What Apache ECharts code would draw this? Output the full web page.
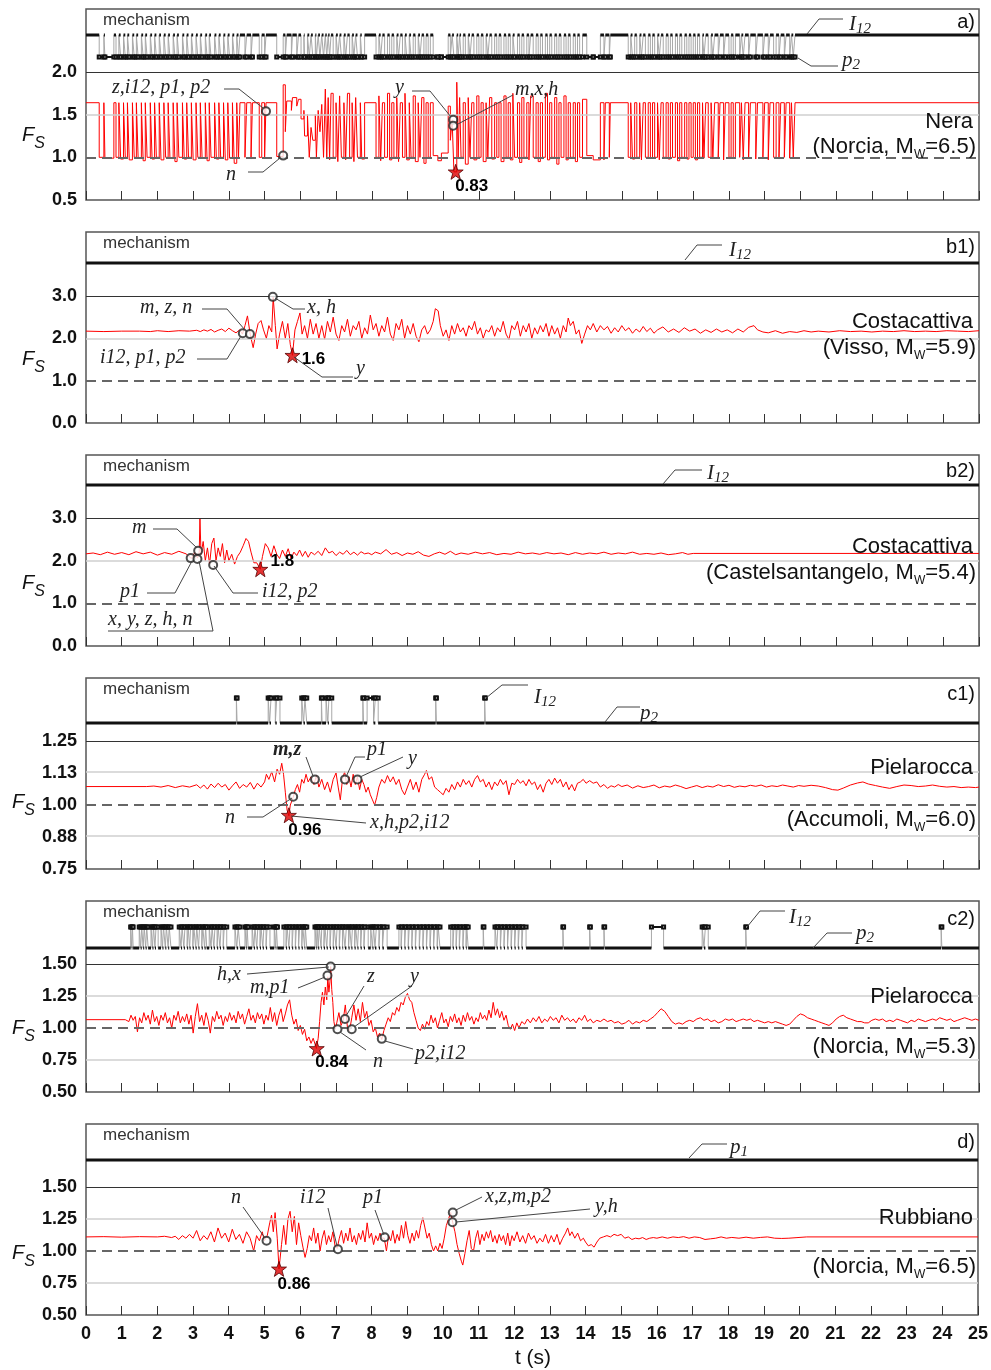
<!DOCTYPE html>
<html>
<head>
<meta charset="utf-8">
<script src="https://cdn.jsdelivr.net/npm/echarts@6.0.0/dist/echarts.min.js"></script>
<style>html,body{margin:0;padding:0;background:#fff}#main{width:991px;height:1370px}</style>
</head>
<body>
<div id="main"></div>
<script>
// ---- data ----
// a) Nera: Fs sits at the I12 level and drops while p2 governs: [start, end, Fs(p2), Fs(I12) after]
var neraI12 = 1.64;
var neraP2 = [
  [0.37,0.50,1.00],[0.53,0.78,0.99],
  [0.84,0.92,1.00],[0.97,1.05,0.98],[1.10,1.16,1.00],[1.21,1.30,0.97],[1.35,1.41,1.00],[1.46,1.55,0.99],
  [1.60,1.66,0.96],[1.71,1.80,1.00],[1.85,1.92,0.98],[1.97,2.05,1.00],[2.10,2.18,0.97],[2.23,2.30,1.00],
  [2.35,2.44,0.99],[2.49,2.55,0.95],[2.60,2.70,1.00],[2.75,2.82,0.98],[2.87,2.95,1.00],[3.00,3.08,0.97],
  [3.13,3.20,1.00],[3.25,3.34,0.99],[3.39,3.45,0.96],[3.50,3.60,1.00],[3.65,3.72,0.98],[3.77,3.85,1.00],
  [3.90,3.97,0.97],[4.02,4.10,0.99],[4.15,4.22,0.93],[4.27,4.31,1.00],
  [4.45,4.50,1.00],[4.62,4.66,0.98],[4.85,4.92,1.00],[5.00,5.04,0.99],
  [5.34,5.52,1.01,1.85],[5.58,5.62,1.30,1.66],[5.75,5.78,1.55,1.70],[5.90,5.95,1.60,1.68],
  [6.02,6.10,1.45,1.55],[6.12,6.20,1.25,1.50],[6.25,6.30,1.00,1.35],[6.35,6.42,1.20,1.50],[6.45,6.50,1.00,1.55],[6.55,6.60,1.30,1.62],
  [6.65,6.70,1.00,1.80],[6.74,6.78,1.00,1.70],[6.82,6.86,0.97,1.75],
  [6.92,7.00,1.00],[7.05,7.10,0.95,1.72],[7.15,7.22,1.00],[7.27,7.32,0.97,1.75],[7.38,7.45,1.00],[7.50,7.55,0.95,1.70],[7.60,7.68,1.00],[7.72,7.80,0.98],
  [8.12,8.20,1.00,1.72],[8.25,8.30,0.96],[8.36,8.44,1.00,1.75],[8.50,8.56,0.97],[8.62,8.70,1.00,1.70],[8.75,8.80,0.95],[8.86,8.93,1.00,1.75],
  [8.98,9.05,0.97],[9.10,9.16,1.00,1.72],[9.22,9.30,0.95],[9.35,9.40,1.00,1.70],[9.46,9.52,0.93],[9.58,9.64,1.00],
  [9.72,9.85,1.02],[9.85,9.95,0.96],[9.95,10.14,1.05,1.60],
  [10.20,10.25,1.20,1.44],[10.30,10.38,0.83,1.88],[10.42,10.46,1.00,1.70],
  [10.50,10.56,1.00],[10.62,10.70,0.92,1.70],[10.75,10.80,1.00],[10.86,10.94,0.97,1.72],[11.00,11.06,1.00],[11.12,11.20,0.95],
  [11.25,11.30,1.00,1.70],[11.36,11.44,0.98],[11.50,11.56,1.00],
  [11.62,11.70,0.95,1.72],[11.76,11.82,1.00],[11.88,11.95,0.97,1.75],[12.00,12.08,1.00],[12.14,12.20,0.94,1.70],[12.26,12.34,1.00],
  [12.40,12.45,0.97,1.72],[12.52,12.60,1.00],[12.66,12.72,0.95],[12.78,12.86,1.00,1.75],[12.92,12.98,0.97],[13.04,13.12,1.00,1.70],
  [13.18,13.24,0.92],[13.30,13.38,1.00,1.72],[13.44,13.50,0.97],[13.56,13.64,1.00],[13.70,13.76,0.95],[13.82,13.90,1.00,1.68],
  [14.02,14.20,1.02],[14.20,14.40,0.97],
  [14.50,14.54,0.97],[14.65,14.68,1.00],
  [15.18,15.25,1.00],[15.30,15.36,0.98],[15.42,15.50,1.00],[15.55,15.60,0.97],[15.66,15.74,1.00],[15.80,15.86,0.99],
  [15.92,16.00,1.00],[16.05,16.10,0.97],[16.16,16.24,1.00],[16.30,16.36,0.98],[16.42,16.50,1.00],[16.56,16.62,0.96],
  [16.68,16.76,1.00],[16.82,16.88,0.98],[16.94,17.00,1.00],[17.06,17.12,0.97],[17.18,17.26,1.00],[17.30,17.35,0.99],
  [17.42,17.50,1.00],[17.55,17.60,0.98],[17.70,17.75,1.00],[17.85,17.90,0.97],[18.00,18.06,1.00],[18.12,18.18,0.99],
  [18.30,18.35,1.00],[18.40,18.45,0.97],[18.55,18.60,1.00],[18.75,18.80,0.98],[18.95,19.00,1.00],[19.10,19.15,0.97],
  [19.25,19.32,1.00],[19.40,19.45,0.98],[19.55,19.60,1.00],[19.70,19.75,0.99],[19.80,19.85,1.00]
];
var neraCircles = [[5.04,1.54],[5.52,1.02],[10.28,1.44],[10.28,1.37]];
var neraMin = [10.35, 0.83];

// b1) Costacattiva, Visso
var vissoFs = [[0,2.17],[0.5,2.16],[1,2.17],[1.5,2.17],[1.8,2.16],[2,2.18],[2.3,2.16],[2.6,2.18],[2.9,2.17],[3.1,2.19],[3.2,2.16],[3.3,2.2],
  [3.4,2.17],[3.5,2.21],[3.6,2.15],[3.7,2.19],[3.8,2.22],[3.9,2.16],[4.0,2.24],[4.1,2.18],[4.2,2.13],[4.3,2.2],[4.38,2.1],[4.45,2.3],
  [4.52,2.53],[4.6,2.08],[4.68,1.78],[4.75,2.1],[4.82,2.35],[4.9,2.42],[4.97,2.2],[5.05,2.0],[5.12,2.3],[5.2,2.15],[5.24,2.97],[5.3,2.3],
  [5.35,1.75],[5.42,2.1],[5.5,2.4],[5.58,2.0],[5.65,2.35],[5.72,1.85],[5.78,1.6],[5.85,2.2],[5.92,2.4],[5.99,2.6],[6.05,2.1],[6.12,2.3],
  [6.2,2.0],[6.28,2.45],[6.36,2.1],[6.44,2.35],[6.52,2.0],[6.6,2.3],[6.68,1.98],[6.76,2.4],[6.84,2.15],[6.92,2.5],[7.0,2.1],[7.08,1.95],
  [7.16,2.3],[7.24,2.15],[7.32,2.45],[7.4,2.05],[7.48,2.3],[7.56,2.2],[7.64,2.4],[7.72,2.0],[7.8,2.25],[7.88,2.1],[7.96,2.55],[8.04,2.2],
  [8.12,2.35],[8.2,2.05],[8.28,2.3],[8.36,2.15],[8.44,2.5],[8.52,2.1],[8.6,1.95],[8.68,2.35],[8.76,2.2],[8.84,2.45],[8.92,2.0],[9.0,2.3],
  [9.08,2.1],[9.16,2.35],[9.24,2.05],[9.32,1.92],[9.4,2.2],[9.48,2.3],[9.56,2.1],[9.64,2.2],[9.72,2.4],[9.78,2.7],[9.86,2.65],[9.92,2.3],
  [10.0,2.05],[10.08,2.2],[10.16,1.95],[10.24,2.3],[10.32,2.1],[10.4,2.35],[10.48,2.15],[10.56,2.25],[10.64,2.05],[10.72,2.3],[10.8,2.2],
  [10.88,2.4],[10.96,2.1],[11.04,2.25],[11.12,2.0],[11.2,2.2],[11.28,2.15],[11.36,2.3],[11.44,2.05],[11.52,2.25],[11.6,2.15],[11.68,2.4],
  [11.76,2.1],[11.84,1.97],[11.92,2.3],[12.0,2.2],[12.08,2.4],[12.16,2.05],[12.24,2.3],[12.32,2.15],[12.4,2.35],[12.48,2.0],[12.56,2.25],
  [12.64,2.1],[12.72,2.3],[12.8,2.15],[12.88,2.35],[12.96,2.05],[13.04,2.3],[13.12,2.1],[13.2,2.25],[13.28,2.0],[13.36,2.3],[13.44,2.15],
  [13.5,2.48],[13.56,2.3],[13.64,2.4],[13.72,2.1],[13.8,2.2],[13.88,1.88],[13.96,2.1],[14.04,2.3],[14.12,2.2],[14.2,2.35],[14.3,2.15],
  [14.4,2.3],[14.5,2.2],[14.6,2.28],[14.7,2.12],[14.8,2.25],[14.9,2.15],[15.0,2.3],[15.1,2.18],[15.2,2.25],[15.3,2.12],[15.4,2.22],
  [15.5,2.15],[15.6,2.28],[15.7,2.16],[15.8,2.24],[15.9,2.12],[16.0,2.2],[16.15,2.27],[16.3,2.15],[16.45,2.22],[16.6,2.14],[16.75,2.25],
  [16.9,2.17],[17.05,2.22],[17.2,2.12],[17.35,2.2],[17.5,2.14],[17.65,2.22],[17.8,2.15],[17.95,2.2],[18.1,2.13],[18.25,2.22],[18.4,2.15],
  [18.55,2.26],[18.7,2.3],[18.8,2.2],[18.95,2.15],[19.1,2.13],[19.3,2.18],[19.5,2.12],[19.7,2.16],[19.9,2.14],[20.1,2.18],[20.3,2.15],
  [20.5,2.17],[20.8,2.15],[21.1,2.18],[21.4,2.16],[21.7,2.17],[22.0,2.15],[22.3,2.17],[22.6,2.16],[22.9,2.18],[23.2,2.16],[23.5,2.17],
  [23.8,2.16],[24.1,2.18],[24.4,2.17],[24.7,2.16],[25,2.18]];
var vissoCircles = [[4.39,2.12],[4.59,2.10],[5.23,2.98]];
var vissoMin = [5.78, 1.6];

// b2) Costacattiva, Castelsantangelo
var castFs = [[0,2.16],[0.2,2.18],[0.4,2.14],[0.6,2.2],[0.8,2.15],[1.0,2.19],[1.2,2.14],[1.4,2.21],[1.6,2.16],[1.8,2.2],[2.0,2.13],
  [2.2,2.19],[2.4,2.15],[2.6,2.22],[2.8,2.16],[2.95,2.05],[3.05,2.2],[3.12,2.06],[3.17,2.2],[3.19,3.0],[3.22,2.15],[3.28,2.45],[3.34,2.0],
  [3.4,2.3],[3.46,1.92],[3.52,2.4],[3.58,2.53],[3.64,2.0],[3.7,2.3],[3.76,2.1],[3.82,2.4],[3.88,1.95],[3.94,2.25],[4.0,2.0],[4.08,2.15],
  [4.16,1.92],[4.24,2.1],[4.32,2.2],[4.4,2.35],[4.48,2.52],[4.55,2.45],[4.62,2.2],[4.7,1.95],[4.78,1.95],[4.88,1.8],[4.94,2.1],[5.02,2.4],
  [5.1,2.3],[5.18,2.1],[5.26,2.35],[5.34,2.15],[5.42,2.05],[5.5,2.25],[5.58,2.1],[5.66,2.28],[5.74,2.05],[5.82,2.2],[5.9,2.12],[5.98,2.25],
  [6.06,2.1],[6.14,2.22],[6.22,2.08],[6.3,2.2],[6.4,2.14],[6.5,2.22],[6.6,2.12],[6.7,2.3],[6.8,2.18],[6.9,2.22],[7.0,2.12],[7.1,2.2],
  [7.2,2.15],[7.3,2.24],[7.4,2.14],[7.5,2.2],[7.6,2.13],[7.7,2.21],[7.8,2.16],[7.9,2.18],[8.0,2.14],[8.1,2.2],[8.25,2.16],[8.4,2.26],
  [8.55,2.15],[8.7,2.19],[8.85,2.12],[9.0,2.18],[9.15,2.15],[9.3,2.21],[9.45,2.13],[9.6,2.1],[9.75,2.16],[9.9,2.2],[10.05,2.15],[10.2,2.22],
  [10.35,2.14],[10.5,2.18],[10.7,2.15],[10.9,2.2],[11.1,2.16],[11.3,2.19],[11.5,2.14],[11.7,2.17],[11.9,2.15],[12.1,2.2],[12.3,2.16],
  [12.5,2.18],[12.7,2.15],[12.9,2.19],[13.1,2.16],[13.3,2.18],[13.5,2.14],[13.7,2.19],[13.9,2.15],[14.1,2.18],[14.3,2.16],[14.5,2.2],
  [14.7,2.15],[14.9,2.18],[15.1,2.16],[15.3,2.2],[15.5,2.15],[15.7,2.17],[15.9,2.15],[16.1,2.18],[16.3,2.14],[16.5,2.16],[16.7,2.19],
  [16.85,2.15],[17.0,2.17],[25,2.17]];
var castCircles = [[2.93,2.06],[3.14,2.23],[3.12,2.04],[3.56,1.90]];
var castMin = [4.88, 1.8];

// c1) Pielarocca, Accumoli
var accuFs = [[0,1.072],[1.7,1.072],[1.9,1.074],[2.1,1.07],[2.3,1.076],[2.5,1.068],[2.7,1.075],[2.9,1.07],[3.1,1.079],[3.2,1.066],
  [3.3,1.078],[3.4,1.062],[3.5,1.082],[3.6,1.068],[3.7,1.085],[3.8,1.07],[3.9,1.08],[4.0,1.058],[4.1,1.075],[4.2,1.09],[4.3,1.065],
  [4.4,1.08],[4.5,1.07],[4.6,1.088],[4.7,1.062],[4.8,1.085],[4.9,1.07],[5.0,1.09],[5.05,1.12],[5.12,1.1],[5.2,1.13],[5.28,1.09],
  [5.35,1.14],[5.42,1.12],[5.48,1.163],[5.53,1.12],[5.58,1.05],[5.63,0.98],[5.68,0.958],[5.72,1.0],[5.8,1.03],[5.86,1.06],[5.92,1.08],
  [5.98,1.05],[6.04,1.1],[6.1,1.085],[6.16,1.12],[6.22,1.09],[6.3,1.11],[6.38,1.08],[6.45,1.115],[6.52,1.07],[6.6,1.1],[6.68,1.06],
  [6.76,1.09],[6.84,1.05],[6.92,1.1],[7.0,1.125],[7.06,1.07],[7.12,1.02],[7.18,1.1],[7.24,1.13],[7.3,1.08],[7.36,1.11],[7.42,1.07],
  [7.48,1.12],[7.54,1.08],[7.6,1.11],[7.66,1.06],[7.72,1.1],[7.78,1.08],[7.84,1.05],[7.9,1.07],[7.96,1.04],[8.02,1.02],[8.08,1.0],
  [8.14,1.03],[8.2,1.07],[8.28,1.1],[8.36,1.085],[8.44,1.115],[8.52,1.09],[8.6,1.11],[8.68,1.08],[8.76,1.1],[8.84,1.06],[8.92,1.04],
  [9.0,1.07],[9.08,1.1],[9.16,1.06],[9.24,1.09],[9.32,1.05],[9.4,1.1],[9.48,1.12],[9.53,1.135],[9.6,1.1],[9.68,1.11],[9.76,1.07],
  [9.84,1.06],[9.92,1.05],[10.0,1.04],[10.08,1.065],[10.16,1.05],[10.24,1.08],[10.32,1.06],[10.4,1.09],[10.48,1.07],[10.56,1.1],
  [10.64,1.08],[10.72,1.095],[10.8,1.07],[10.88,1.1],[10.96,1.115],[11.04,1.09],[11.12,1.1],[11.2,1.07],[11.28,1.09],[11.36,1.06],
  [11.44,1.09],[11.52,1.075],[11.6,1.1],[11.68,1.08],[11.76,1.095],[11.84,1.04],[11.92,1.085],[12.0,1.08],[12.08,1.1],[12.16,1.085],
  [12.24,1.095],[12.32,1.075],[12.4,1.1],[12.48,1.08],[12.56,1.09],[12.64,1.06],[12.72,1.08],[12.8,1.05],[12.88,1.085],[12.96,1.1],
  [13.04,1.08],[13.12,1.105],[13.2,1.085],[13.28,1.1],[13.36,1.07],[13.44,1.09],[13.52,1.06],[13.6,1.08],[13.68,1.055],[13.76,1.085],
  [13.84,1.09],[13.92,1.1],[14.0,1.085],[14.1,1.095],[14.2,1.085],[14.3,1.09],[14.4,1.07],[14.5,1.08],[14.6,1.065],[14.7,1.075],
  [14.8,1.07],[14.9,1.08],[15.0,1.072],[15.15,1.078],[15.3,1.066],[15.45,1.075],[15.6,1.068],[15.75,1.072],[15.9,1.078],[16.05,1.067],
  [16.2,1.074],[16.35,1.07],[16.5,1.078],[16.65,1.072],[16.8,1.064],[16.95,1.07],[17.1,1.076],[17.25,1.068],[17.4,1.074],[17.55,1.07],
  [17.7,1.079],[17.85,1.072],[18.0,1.077],[18.15,1.069],[18.3,1.074],[18.45,1.071],[18.6,1.077],[18.75,1.073],[18.9,1.078],[19.05,1.07],
  [19.2,1.075],[19.35,1.072],[19.5,1.078],[19.65,1.074],[19.8,1.07],[19.95,1.076],[20.1,1.073],[20.3,1.077],[20.5,1.074],[20.7,1.068],
  [20.9,1.06],[21.05,1.058],[21.2,1.066],[21.4,1.078],[21.6,1.086],[21.75,1.09],[21.9,1.082],[22.1,1.076],[22.3,1.07],[22.5,1.065],
  [22.7,1.072],[22.9,1.078],[23.1,1.076],[23.3,1.072],[23.5,1.074],[23.7,1.078],[23.9,1.073],[24.1,1.07],[24.3,1.072],[24.5,1.068],
  [24.7,1.07],[24.9,1.068],[25,1.07]];
var accuI12 = [[4.21,4.23],[5.1,5.14],[5.18,5.3],[5.34,5.43],[6.04,6.09],[6.13,6.18],[6.59,6.61],[6.72,6.77],[6.8,6.88],
  [7.75,7.77],[7.87,8.05],[8.1,8.18],[9.79,9.81],[11.16,11.18]];
var accuCircles = [[6.41,1.10],[7.25,1.10],[7.6,1.10],[5.8,1.032]];
var accuMin = [5.68, 0.96];

// c2) Pielarocca, Norcia Mw 5.3
var norcFs = [[0,1.065],[1.1,1.065],[1.15,1.08],[1.2,1.05],[1.26,1.1],[1.32,1.06],[1.38,1.09],[1.44,0.97],[1.5,1.08],[1.56,1.04],
  [1.62,1.12],[1.68,1.06],[1.74,1.1],[1.8,1.03],[1.86,1.14],[1.92,1.05],[1.98,1.09],[2.04,1.02],[2.1,1.1],[2.16,1.06],[2.22,1.12],
  [2.28,1.04],[2.34,1.08],[2.4,1.0],[2.46,1.1],[2.52,1.06],[2.58,1.13],[2.64,1.04],[2.7,1.09],[2.76,1.05],[2.82,1.11],[2.88,1.03],
  [2.94,1.1],[3.0,0.96],[3.06,1.09],[3.12,1.19],[3.18,1.05],[3.24,1.1],[3.3,1.02],[3.36,1.12],[3.42,1.06],[3.48,0.96],[3.54,1.09],
  [3.6,1.05],[3.66,1.13],[3.72,1.07],[3.78,1.1],[3.84,1.02],[3.9,1.09],[3.96,1.05],[4.02,1.12],[4.08,1.06],[4.14,1.1],[4.2,1.04],
  [4.26,1.13],[4.32,1.07],[4.38,1.11],[4.44,1.03],[4.5,1.09],[4.56,1.15],[4.62,1.06],[4.68,1.1],[4.74,1.04],[4.8,1.12],[4.86,1.07],
  [4.92,1.11],[4.98,1.03],[5.04,1.1],[5.1,1.06],[5.16,1.16],[5.22,1.05],[5.28,1.12],[5.34,1.02],[5.4,1.1],[5.46,1.15],[5.52,1.05],
  [5.58,1.11],[5.64,1.18],[5.7,1.22],[5.76,1.1],[5.82,1.03],[5.88,1.07],[5.94,0.98],[6.0,1.02],[6.06,0.95],[6.12,0.99],[6.18,0.9],
  [6.24,0.93],[6.3,0.88],[6.36,0.92],[6.45,0.84],[6.5,0.92],[6.54,1.05],[6.58,1.2],[6.62,1.28],[6.66,1.18],[6.7,1.32],[6.74,1.22],
  [6.77,1.4],[6.8,1.28],[6.83,1.36],[6.85,1.48],[6.88,1.3],[6.91,1.2],[6.94,1.05],[6.98,0.99],[7.02,1.04],[7.08,1.12],[7.14,1.02],
  [7.2,1.06],[7.26,1.18],[7.32,1.0],[7.38,0.98],[7.44,1.08],[7.5,1.18],[7.56,1.06],[7.62,1.15],[7.68,1.05],[7.74,1.2],[7.8,1.08],
  [7.86,1.13],[7.92,1.02],[7.98,1.06],[8.04,0.97],[8.1,1.0],[8.16,0.93],[8.22,0.96],[8.28,0.91],[8.34,0.98],[8.4,1.03],[8.46,1.08],
  [8.52,1.05],[8.58,1.12],[8.64,1.1],[8.7,1.16],[8.76,1.13],[8.82,1.2],[8.88,1.18],[8.94,1.24],[9.0,1.27],[9.06,1.22],[9.12,1.2],
  [9.18,1.12],[9.24,1.06],[9.3,1.0],[9.36,0.98],[9.42,1.03],[9.48,0.99],[9.54,1.05],[9.6,1.02],[9.66,1.1],[9.72,1.04],[9.78,1.08],
  [9.84,1.0],[9.9,1.06],[9.96,1.12],[10.02,1.04],[10.08,1.07],[10.14,1.01],[10.2,1.09],[10.26,1.05],[10.32,1.11],[10.38,1.04],
  [10.44,1.08],[10.5,1.02],[10.56,1.1],[10.62,1.05],[10.68,1.12],[10.74,1.06],[10.8,1.09],[10.86,1.03],[10.92,1.08],[10.98,1.05],
  [11.04,1.12],[11.1,1.07],[11.16,1.1],[11.22,1.06],[11.28,1.14],[11.34,1.08],[11.4,1.2],[11.46,1.1],[11.52,1.15],[11.58,1.08],
  [11.64,1.13],[11.7,1.06],[11.76,1.1],[11.82,1.02],[11.88,0.99],[11.94,1.03],[12.0,0.98],[12.06,1.04],[12.12,1.0],[12.2,1.05],
  [12.28,1.03],[12.36,1.07],[12.44,1.04],[12.52,1.08],[12.6,1.05],[12.68,1.09],[12.76,1.04],[12.84,1.07],[12.92,1.05],[13.0,1.09],
  [13.08,1.06],[13.16,1.08],[13.24,1.04],[13.32,1.1],[13.4,1.06],[13.48,1.08],[13.56,1.05],[13.64,1.07],[13.72,1.04],[13.8,1.08],
  [13.88,1.06],[13.96,1.1],[14.04,1.05],[14.12,1.07],[14.2,1.04],[14.3,1.06],[14.4,1.05],[14.5,1.07],[14.6,1.05],[14.7,1.06],
  [14.8,1.04],[14.9,1.05],[15.0,1.03],[15.1,1.04],[15.2,1.06],[15.3,1.03],[15.4,1.05],[15.5,1.04],[15.6,1.06],[15.7,1.05],[15.8,1.07],
  [15.9,1.09],[16.0,1.12],[16.1,1.15],[16.2,1.13],[16.3,1.09],[16.4,1.05],[16.5,1.03],[16.6,1.04],[16.7,1.03],[16.8,1.05],[16.9,1.06],
  [17.0,1.05],[17.1,1.07],[17.2,1.08],[17.3,1.06],[17.4,1.07],[17.5,1.05],[17.6,1.06],[17.7,1.04],[17.8,1.05],[17.9,1.07],[18.0,1.06],
  [18.1,1.07],[18.2,1.05],[18.3,1.06],[18.4,1.07],[18.5,1.06],[18.6,1.07],[18.7,1.05],[18.8,1.06],[18.9,1.05],[19.0,1.04],[19.1,1.05],
  [19.2,1.04],[19.3,1.05],[19.4,1.04],[19.5,1.03],[19.6,1.02],[19.7,1.03],[19.8,1.06],[19.9,1.09],[20.0,1.11],[20.1,1.1],[20.2,1.08],
  [20.3,1.07],[20.4,1.06],[20.5,1.05],[20.6,1.04],[20.7,1.03],[20.8,1.02],[20.9,1.04],[21.0,1.07],[21.1,1.09],[21.2,1.1],[21.3,1.08],
  [21.4,1.07],[21.5,1.06],[21.6,1.05],[21.7,1.05],[21.8,1.04],[21.9,1.04],[22.0,1.06],[22.1,1.07],[22.2,1.06],[22.3,1.07],[22.4,1.05],
  [22.5,1.06],[22.6,1.05],[22.7,1.07],[22.8,1.06],[22.9,1.05],[23.0,1.04],[23.1,1.06],[23.2,1.05],[23.3,1.07],[23.4,1.06],[23.5,1.05],
  [23.6,1.06],[23.7,1.07],[23.8,1.06],[23.9,1.08],[24.0,1.07],[24.1,1.06],[24.2,1.07],[24.3,1.05],[24.4,1.06],[24.5,1.07],[24.6,1.08],
  [24.7,1.07],[24.8,1.06],[24.9,1.07],[25,1.06]];
var norcI12 = [[1.25,1.28],[1.30,1.32],[1.49,1.53],[1.56,1.6],[1.63,1.67],[1.7,1.74],[1.82,1.86],[1.89,1.93],[1.96,2.02],
  [2.1,2.14],[2.17,2.22],[2.25,2.3],[2.33,2.38],[2.61,2.66],[2.69,2.74],[2.77,2.83],[2.86,2.9],[2.93,2.99],[3.02,3.07],[3.1,3.15],
  [3.18,3.24],[3.27,3.32],[3.35,3.38],[3.45,3.5],[3.53,3.58],[3.61,3.67],[3.7,3.75],[3.78,3.84],[3.87,3.94],[4.17,4.22],[4.26,4.31],
  [4.45,4.49],[4.51,4.54],[4.65,4.7],[4.73,4.78],[4.81,4.87],[4.9,4.95],[4.98,5.04],[5.07,5.15],[5.27,5.31],[5.33,5.36],
  [5.54,5.6],[5.63,5.68],[5.71,5.77],[5.8,5.86],[5.89,5.95],[5.98,6.04],[6.07,6.12],[6.14,6.18],[6.41,6.45],[6.47,6.5],
  [6.53,6.58],[6.6,6.66],[6.69,6.74],[6.77,6.83],[6.86,6.92],[6.95,7.0],[7.03,7.09],[7.12,7.18],[7.2,7.25],[7.29,7.35],[7.38,7.43],
  [7.46,7.52],[7.55,7.6],[7.63,7.69],[7.72,7.78],[7.81,7.9],[7.97,8.02],[8.05,8.09],[8.13,8.2],[8.23,8.3],[8.34,8.43],
  [8.76,8.82],[8.85,8.92],[8.95,9.02],[9.05,9.12],[9.15,9.22],[9.25,9.33],[9.36,9.43],[9.46,9.53],[9.56,9.63],[9.66,9.73],
  [9.76,9.83],[9.86,9.91],[10.21,10.27],[10.3,10.36],[10.39,10.45],[10.48,10.55],[10.58,10.64],[10.66,10.7],[11.12,11.14],
  [11.45,11.5],[11.53,11.6],[11.63,11.7],[11.73,11.8],[11.83,11.9],[11.93,12.0],[12.03,12.1],[12.13,12.2],[12.23,12.32],
  [13.35,13.37],[14.1,14.12],[14.5,14.52],[15.83,16.17],[17.25,17.3],[17.34,17.42],[18.47,18.49],[23.94,23.96]];
var norcCircles = [[6.85,1.48],[6.76,1.41],[7.25,1.07],[7.04,0.99],[7.44,0.99],[8.28,0.915]];
var norcMin = [6.46, 0.84];

// d) Rubbiano, Norcia Mw 6.5
var rubbFs = [[0,1.11],[0.5,1.112],[1,1.108],[1.5,1.112],[2,1.11],[2.2,1.115],[2.4,1.105],[2.5,1.115],[2.6,1.09],[2.7,1.12],
  [2.8,1.1],[2.9,1.13],[3.0,1.1],[3.1,1.16],[3.2,1.08],[3.3,1.12],[3.4,1.09],[3.5,1.15],[3.6,1.07],[3.7,1.18],[3.8,1.1],[3.9,1.14],
  [4.0,1.07],[4.1,1.17],[4.2,1.09],[4.3,1.13],[4.4,1.06],[4.5,1.15],[4.6,1.1],[4.7,1.0],[4.78,1.12],[4.86,1.08],[4.94,1.15],[5.0,1.08],
  [5.08,1.12],[5.15,1.22],[5.2,1.28],[5.25,1.15],[5.3,1.3],[5.36,1.1],[5.41,0.86],[5.48,1.05],[5.54,1.2],[5.6,1.05],[5.66,1.25],
  [5.72,1.31],[5.78,1.15],[5.84,1.27],[5.9,1.05],[5.96,1.22],[6.02,1.12],[6.08,1.03],[6.14,0.95],[6.2,1.02],[6.26,1.12],[6.32,1.08],
  [6.38,1.18],[6.44,1.06],[6.5,1.14],[6.56,1.0],[6.62,1.1],[6.68,1.16],[6.74,1.05],[6.8,1.12],[6.86,1.07],[6.92,1.15],[6.98,1.04],
  [7.04,1.02],[7.1,1.1],[7.16,1.16],[7.22,1.06],[7.28,1.14],[7.34,1.08],[7.4,1.18],[7.46,1.07],[7.52,1.12],[7.58,1.05],[7.64,1.14],
  [7.7,1.09],[7.76,1.16],[7.82,1.07],[7.88,1.22],[7.94,1.1],[8.0,1.14],[8.06,1.05],[8.12,1.12],[8.18,1.08],[8.24,1.14],[8.3,1.1],
  [8.36,1.1],[8.42,1.0],[8.48,1.12],[8.54,1.08],[8.6,1.16],[8.66,1.06],[8.72,1.13],[8.78,1.08],[8.84,1.2],[8.9,1.1],[8.96,1.23],
  [9.02,1.12],[9.08,1.06],[9.14,1.14],[9.2,1.08],[9.26,1.16],[9.32,1.1],[9.38,1.2],[9.44,1.26],[9.5,1.18],[9.56,1.1],[9.62,1.14],
  [9.68,1.05],[9.74,1.0],[9.8,1.04],[9.86,1.0],[9.92,1.06],[9.98,1.02],[10.04,1.1],[10.1,1.2],[10.16,1.25],[10.22,1.3],[10.28,1.22],
  [10.34,1.15],[10.4,1.05],[10.46,0.98],[10.52,0.92],[10.56,0.89],[10.62,0.98],[10.68,1.08],[10.74,1.16],[10.8,1.02],[10.86,1.0],
  [10.92,1.1],[10.98,1.16],[11.04,1.05],[11.1,1.13],[11.16,1.08],[11.22,1.15],[11.28,1.1],[11.34,1.16],[11.4,1.07],[11.46,1.12],
  [11.52,1.06],[11.58,1.13],[11.64,1.08],[11.7,1.12],[11.76,1.05],[11.82,1.14],[11.88,1.04],[11.94,1.12],[12.0,1.08],[12.08,1.15],
  [12.16,1.07],[12.24,1.12],[12.32,1.06],[12.4,1.14],[12.48,1.09],[12.56,1.12],[12.64,1.06],[12.72,1.1],[12.8,1.07],[12.88,1.13],
  [12.96,1.06],[13.04,1.12],[13.12,1.07],[13.2,1.13],[13.28,1.05],[13.36,1.1],[13.44,1.14],[13.5,1.18],[13.56,1.12],[13.62,1.15],
  [13.7,1.1],[13.78,1.14],[13.86,1.08],[13.94,1.1],[14.0,1.07],[14.08,1.04],[14.16,1.05],[14.24,1.03],[14.32,1.07],[14.4,1.1],
  [14.5,1.11],[14.6,1.12],[14.7,1.11],[14.8,1.13],[14.9,1.12],[15.0,1.13],[15.1,1.1],[15.2,1.11],[15.3,1.09],[15.4,1.1],[15.5,1.095],
  [15.6,1.105],[15.7,1.09],[15.8,1.1],[15.9,1.105],[16.0,1.1],[16.15,1.11],[16.3,1.1],[16.45,1.11],[16.6,1.105],[16.75,1.112],
  [16.9,1.1],[17.05,1.11],[17.2,1.105],[17.35,1.09],[17.5,1.095],[17.65,1.1],[17.8,1.11],[17.95,1.1],[18.1,1.106],[18.3,1.1],
  [18.5,1.108],[18.7,1.1],[18.9,1.106],[19.1,1.11],[19.3,1.1],[19.5,1.098],[19.7,1.1],[19.9,1.104],[20.2,1.11],[25,1.11]];
var rubbCircles = [[5.06,1.08],[7.06,1.013],[8.37,1.107],[10.28,1.30],[10.27,1.224]];
var rubbMin = [5.41, 0.86];

// y axis ticks per panel: [min, labelled top, step, decimals]
var fsTicks = [[0.5,2.0,0.5,1],[0,3,1,1],[0,3,1,1],[0.75,1.25,0.125,2],[0.5,1.5,0.25,2],[0.5,1.5,0.25,2]];
var gridValues = [
  [[2.0,'top'],[1.5,'light'],[1.0,'dash']],
  [[3,'top'],[2,'light'],[1,'dash']],
  [[3,'top'],[2,'light'],[1,'dash']],
  [[1.25,'top'],[1.125,'light'],[1.0,'dash'],[0.875,'light']],
  [[1.5,'top'],[1.25,'light'],[1.0,'dash'],[0.75,'light']],
  [[1.5,'top'],[1.25,'light'],[1.0,'dash'],[0.75,'light']]
];
var stations = ['Nera','Costacattiva','Costacattiva','Pielarocca','Pielarocca','Rubbiano'];
var events = [['Norcia','6.5'],['Visso','5.9'],['Castelsantangelo','5.4'],['Accumoli','6.0'],['Norcia','5.3'],['Norcia','6.5']];
var tags = ['a)','b1)','b2)','c1)','c2)','d)'];

// ---- layout ----
var TOP = [9, 232, 455, 678, 901, 1124];
var H = 191, LEFT = 86, W = 893;
var fsMax = [2.738, 4.512, 4.477, 1.496, 1.992, 1.992];
var mech = [
  {base: 0.864, alt: 0.749, ivs: neraP2},
  {base: 0.838},
  {base: 0.843},
  {base: 0.764, alt: 0.895, ivs: accuI12},
  {base: 0.754, alt: 0.864, ivs: norcI12},
  {base: 0.812}
];
var stationY = [[122,147],[322,348],[547,573],[768,820],[997,1047],[1218,1267]];
var tagY = [22, 247, 471, 694, 919, 1142];
var fsLabelPos = [[22,135],[22,359],[22,583],[12,802],[12,1028],[12,1253]];
var starOffset = [[16,14],[21,4],[22,-8],[16,15],[15,14],[15,15]];
var LINE_STYLE = {
  top: {color: '#333', width: 1.2, type: 'solid'},
  light: {color: '#cfcfcf', width: 1.5, type: 'solid'},
  dash: {color: '#666', width: 2, type: [10, 6]}
};
var STAR = 'path://M12,0 L14.9,8.3 L23.4,8.3 L16.6,13.6 L19.1,22 L12,17 L4.9,22 L7.4,13.6 L0.6,8.3 L9.1,8.3 Z';

function buildNera() {
  var pts = [[0, neraI12]];
  neraP2.forEach(function (iv, k) {
    var next = neraP2[k + 1];
    pts.push([iv[0], iv[2]]);
    if (!next || next[0] > iv[1]) pts.push([iv[1], iv.length > 3 ? iv[3] : neraI12]);
  });
  pts.push([25, neraI12]);
  return pts;
}

function mechSeries(i, m) {
  var base = {type: 'line', xAxisIndex: i, yAxisIndex: 2 * i + 1, symbol: 'none', silent: true, z: 3, animation: false};
  if (!m.ivs) {
    return [Object.assign({}, base, {data: [[0, m.base], [25, m.base]], lineStyle: {color: '#111', width: 3}})];
  }
  var step = [[0, m.base]], baseSeg = [[0, m.base]], altSeg = [];
  m.ivs.forEach(function (iv, k) {
    var next = m.ivs[k + 1];
    step.push([iv[0], m.alt]);
    baseSeg.push([iv[0], m.base], [iv[0], null]);
    altSeg.push([iv[0], m.alt], [iv[1], m.alt], [iv[1], null]);
    if (!next || next[0] > iv[1]) {
      step.push([iv[1], m.base]);
      baseSeg.push([iv[1], m.base]);
    }
  });
  step.push([25, m.base]);
  baseSeg.push([25, m.base]);
  return [
    Object.assign({}, base, {data: step, step: 'end', lineStyle: {color: '#a8a8a8', width: 1}}),
    Object.assign({}, base, {data: baseSeg, lineStyle: {color: '#111', width: 3}}),
    Object.assign({}, base, {data: altSeg, lineStyle: {color: '#111', width: 2},
      symbol: 'emptyRect', symbolSize: 3, showSymbol: true, itemStyle: {color: '#111', borderWidth: 1}})
  ];
}

var fsData = [buildNera(), vissoFs, castFs, accuFs, norcFs, rubbFs];
var circles = [neraCircles, vissoCircles, castCircles, accuCircles, norcCircles, rubbCircles];
var mins = [neraMin, vissoMin, castMin, accuMin, norcMin, rubbMin];
var minDec = [2, 1, 1, 2, 2, 2];

var grids = [], xAxes = [], yAxes = [], series = [];
for (var i = 0; i < 6; i++) {
  grids.push({left: LEFT, top: TOP[i], width: W, height: H, show: true, borderColor: '#555', borderWidth: 1.5});
  xAxes.push({
    type: 'value', gridIndex: i, min: 0, max: 25, interval: 1,
    axisLine: {show: false}, splitLine: {show: false},
    axisTick: {show: true, inside: true, length: 9, lineStyle: {color: '#333', width: 1}},
    axisLabel: {show: i === 5, fontSize: 18, fontWeight: 'bold', color: '#111', fontFamily: 'Liberation Sans', margin: 10}
  });
  (function (tk) {
    yAxes.push({
      type: 'value', gridIndex: i, min: tk[0], max: fsMax[i], interval: tk[2],
      axisLine: {show: false}, axisTick: {show: false}, splitLine: {show: false},
      axisLabel: {fontSize: 18, fontWeight: 'bold', color: '#111', fontFamily: 'Liberation Sans', margin: 9,
        formatter: function (v) { return v > tk[1] + 1e-6 ? '' : v.toFixed(tk[3]); }}
    });
  })(fsTicks[i]);
  yAxes.push({type: 'value', gridIndex: i, min: 0, max: 1, show: false});

  series.push({
    type: 'line', xAxisIndex: i, yAxisIndex: 2 * i, data: [], z: 1, silent: true,
    markLine: {silent: true, symbol: ['none', 'none'], label: {show: false}, animation: false,
      data: gridValues[i].map(function (g) { return {yAxis: g[0], lineStyle: LINE_STYLE[g[1]]}; })}
  });
  series.push({
    type: 'line', xAxisIndex: i, yAxisIndex: 2 * i, data: fsData[i], step: i === 0 ? 'end' : false,
    symbol: 'none', silent: true, z: 2, animation: false,
    lineStyle: {color: '#ff0000', width: 1}
  });
  series = series.concat(mechSeries(i, mech[i]));
  series.push({
    type: 'scatter', xAxisIndex: i, yAxisIndex: 2 * i, data: circles[i], z: 5, silent: true, animation: false,
    symbol: 'emptyCircle', symbolSize: 8, itemStyle: {color: '#222', borderWidth: 1.5}
  });
  (function (dec, off) {
    series.push({
      type: 'scatter', xAxisIndex: i, yAxisIndex: 2 * i, data: [mins[i]], z: 6, silent: true, animation: false,
      symbol: STAR, symbolSize: 15, itemStyle: {color: '#dd0000', borderColor: '#550000', borderWidth: 1},
      label: {show: true, position: 'inside', offset: off, fontSize: 17, fontWeight: 'bold', color: '#000',
        textBorderWidth: 0, opacity: 1,
        fontFamily: 'Liberation Sans', formatter: function (p) { return p.value[1].toFixed(dec); }}
    });
  })(minDec[i], starOffset[i]);
}

// ---- annotations ----
var notes = [
  [112, 88, 'z,i12, p1, p2', [[224,89],[239,89],[263,108]]],
  [226, 175, 'n', [[248,172],[263,172],[280,158]]],
  [395, 88, 'y', [[412,91],[430,91],[451,117]]],
  [515, 90, 'm,x,h', [[513,95],[458,124]]],
  [140, 308, 'm, z, n', [[202,309],[227,309],[245,330]]],
  [100, 358, 'i12, p1, p2', [[197,359],[227,359],[241,336]]],
  [307, 308, 'x, h', [[275,298],[293,309],[305,309]]],
  [356, 369, 'y', [[294,357],[322,377],[353,377]]],
  [132, 528, 'm', [[153,529],[177,529],[197,548]]],
  [120, 592, 'p1', [[147,593],[175,593],[192,561]]],
  [108, 620, 'x, y, z, h, n', [[108,631],[213,631],[199,561]]],
  [262, 592, 'i12, p2', [[214,566],[233,593],[258,593]]],
  [273, 750, 'm,z', [[306,757],[313,776]], true],
  [367, 750, 'p1', [[346,777],[355,757],[365,757]]],
  [408, 759, 'y', [[360,777],[403,757]]],
  [225, 818, 'n', [[247,817],[263,817],[292,798]]],
  [370, 823, 'x,h,p2,i12', [[291,816],[366,823]]],
  [217, 975, 'h,x', [[247,974],[329,967]]],
  [250, 988, 'm,p1', [[298,988],[313,982],[325,977]]],
  [367, 977, 'z', [[364,986],[346,1016]]],
  [410, 977, 'y', [[412,986],[354,1027]]],
  [373, 1062, 'n', [[340,1032],[366,1050]]],
  [415, 1054, 'p2,i12', [[385,1041],[413,1049]]],
  [231, 1198, 'n', [[243,1207],[265,1238]]],
  [300, 1198, 'i12', [[328,1208],[337,1246]]],
  [363, 1198, 'p1', [[375,1210],[384,1235]]],
  [485, 1197, 'x,z,m,p2', [[456,1210],[482,1197]]],
  [595, 1207, 'y,h', [[456,1222],[590,1209]]]
];
var mechNotes = [
  [849, 24, 'I', '12', [[807,34],[819,19],[843,19]]],
  [842, 60, 'p', '2', [[798,58],[811,66],[838,66]]],
  [729, 250, 'I', '12', [[685,260],[697,245],[722,245]]],
  [707, 473, 'I', '12', [[663,484],[675,470],[702,470]]],
  [534, 697, 'I', '12', [[486,698],[502,685],[528,685]]],
  [640, 713, 'p', '2', [[605,722],[617,707],[640,707]]],
  [789, 917, 'I', '12', [[747,927],[760,911],[785,911]]],
  [856, 933, 'p', '2', [[813,948],[827,933],[852,933]]],
  [730, 1147, 'p', '1', [[689,1158],[702,1144],[727,1144]]]
];

function txt(x, y, text, al, style) {
  return {type: 'text', x: x, y: y, z: 100, silent: true,
    style: Object.assign({text: text, fill: '#111', fontFamily: 'Liberation Sans', fontSize: 14,
      textAlign: al, align: al, textVerticalAlign: 'middle', verticalAlign: 'middle'}, style || {})};
}
function leader(pts) {
  return {type: 'polyline', z: 99, silent: true, shape: {points: pts}, style: {stroke: '#444', lineWidth: 1, fill: null}};
}

var graphic = [];
for (var k = 0; k < 6; k++) {
  graphic.push(txt(103, TOP[k] + 11, 'mechanism', 'left', {fontSize: 17, fill: '#333'}));
  graphic.push(txt(975, tagY[k], tags[k], 'right', {fontSize: 20}));
  graphic.push(txt(973, stationY[k][0], stations[k], 'right', {fontSize: 22}));
  graphic.push(txt(976, stationY[k][1], '(' + events[k][0] + ', M{w|W}=' + events[k][1] + ')', 'right',
    {fontSize: 22, lineHeight: 28, rich: {w: {fontSize: 12, fontFamily: 'Liberation Sans', verticalAlign: 'bottom', lineHeight: 12, fill: '#111'}}}));
  graphic.push(txt(fsLabelPos[k][0], fsLabelPos[k][1], '{f|F}{s|S}', 'left', {rich: {
    f: {fontSize: 20, fontStyle: 'italic', fontFamily: 'Liberation Sans', lineHeight: 34, fill: '#111'},
    s: {fontSize: 16, fontStyle: 'italic', fontFamily: 'Liberation Sans', lineHeight: 16, verticalAlign: 'bottom', fill: '#111'}}}));
}
notes.forEach(function (n) {
  graphic.push(leader(n[3]));
  graphic.push(txt(n[0], n[1], n[2], 'left', {fontFamily: 'Liberation Serif', fontStyle: 'italic', fontSize: 20,
    fontWeight: n[4] ? 'bold' : 'normal', fill: '#222'}));
});
mechNotes.forEach(function (n) {
  graphic.push(leader(n[4]));
  graphic.push(txt(n[0], n[1], '{m|' + n[2] + '}{s|' + n[3] + '}', 'left', {rich: {
    m: {fontSize: 21, fontStyle: 'italic', fontFamily: 'Liberation Serif', lineHeight: 26, fill: '#222'},
    s: {fontSize: 15, fontStyle: 'italic', fontFamily: 'Liberation Serif', lineHeight: 15, verticalAlign: 'bottom', fill: '#222'}}}));
});
graphic.push(txt(533, 1358, 't (s)', 'center', {fontSize: 21}));

var chartDom = document.getElementById('main');
var myChart = echarts.init(chartDom);
var option = {
  animation: false,
  backgroundColor: '#fff',
  textStyle: {fontFamily: 'Liberation Sans'},
  grid: grids,
  xAxis: xAxes,
  yAxis: yAxes,
  series: series,
  graphic: graphic
};
option && myChart.setOption(option);
</script>
</body>
</html>
